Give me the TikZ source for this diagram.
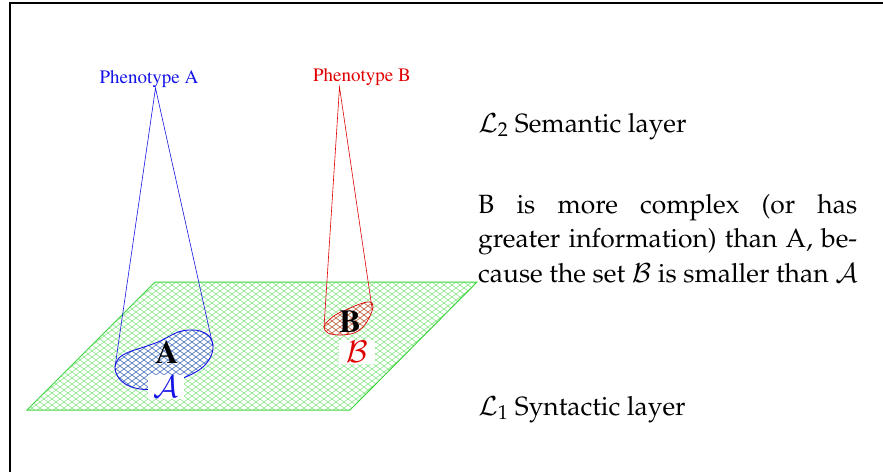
\documentclass[tikz,border=0pt]{standalone}
\usepackage[T1]{fontenc}
\usepackage{mathpazo}
\definecolor{meshgreen}{RGB}{60,215,60}
\definecolor{myblue}{RGB}{20,20,230}
\definecolor{myred}{RGB}{225,0,0}
\newcommand{\timesfont}{\fontfamily{ptm}\selectfont}
\tikzset{
  meshline/.style={line width=0.42pt},
  conel/.style={line width=0.6pt},
  phenolabel/.style={inner sep=0pt, anchor=base, font=\fontsize{19}{22}\timesfont},
  boldlabel/.style={inner sep=0pt, font=\fontsize{32}{34}\timesfont\bfseries},
  setlabel/.style={fill=white, inner sep=1pt, minimum width=36pt, minimum height=24pt, font=\fontsize{30}{32}\selectfont},
  righttext/.style={inner sep=0pt, anchor=base west, font=\fontsize{26.4}{30}\selectfont},
}
\begin{document}
\begin{tikzpicture}[x=1pt,y=-1pt]
\useasboundingbox (0,0) rectangle (883,471);
% frame
\draw[line width=2pt] (10,472) -- (10,2.7) -- (884,2.7);
% green plane
\coordinate (p1) at (27,410);
\coordinate (p2) at (350,410);
\coordinate (p3) at (477,282);
\coordinate (p4) at (155,282);
\begin{scope}
\clip (p1) -- (p2) -- (p3) -- (p4) -- cycle;
\foreach \i in {-25,...,85} {
  \draw[meshline, meshgreen!75] (8*\i,270) -- ++(200,150);
  \draw[meshline, meshgreen!75] (8*\i,270) -- ++(-200,150);
}
\end{scope}
\draw[meshgreen, line width=1pt] (p1) -- (p2) -- (p3) -- (p4) -- cycle;
% blob A
\def\blobA{plot[smooth cycle, tension=0.6] coordinates {(115,367) (118,377) (127,385) (140,389) (153,389) (167,385) (181,379) (194,373) (204,366) (211,356) (213,345) (209,336) (200,331) (189,330) (178,332) (168,337) (158,342) (144,347) (129,352) (119,358)}}
\begin{scope}
\clip \blobA;
\foreach \i in {-5,...,60} {
  \draw[meshline, myblue!70] (8*\i,270) -- ++(200,150);
  \draw[meshline, myblue!70] (8*\i,270) -- ++(-200,150);
}
\end{scope}
\draw[myblue, line width=0.9pt] \blobA;
% blob B
\def\blobB{plot[smooth cycle, tension=0.6] coordinates {(324,327) (328,333) (340,335) (354,333) (363,327) (369,318) (373,307) (370,302) (360,304) (348,309) (337,314) (329,320)}}
\begin{scope}
\clip \blobB;
\foreach \i in {20,...,80} {
  \draw[meshline, myred!75] (8*\i,270) -- ++(200,150);
  \draw[meshline, myred!75] (8*\i,270) -- ++(-200,150);
}
\end{scope}
\draw[myred, line width=0.7pt] \blobB;
% phenotype labels and cones
\node[phenolabel, text=myblue] (phA) at (149,83) {Phenotype A};
\node[phenolabel, text=myred] (phB) at (362,81.7) {Phenotype B};
\coordinate (apexA) at (155.5,88);
\coordinate (apexB) at (339.5,87);
\coordinate (aL) at (115,367);
\coordinate (aR) at (213,346);
\coordinate (bL) at (324,327);
\coordinate (bR) at (372,308);
\draw[conel, myblue] (aL) -- (apexA) -- (aR);
\draw[conel, myred] (bL) -- (apexB) -- (bR);
% labels
\node[setlabel, text=myblue] (calA) at (166,387) {$\mathcal{A}$};
\node[boldlabel] (lA) at (167,352) {A};
\node[setlabel, text=myred] (calB) at (357,352) {$\mathcal{B}$};
\node[boldlabel] (lB) at (350,321) {B};
% right text
\node[righttext] (L2) at (478,132) {$\mathcal{L}_2$ Semantic layer};
\node[righttext] (t1) at (478,213) {\makebox[379pt][s]{B is more complex (or has}};
\node[righttext] (t2) at (478,247.5) {\makebox[379pt][s]{greater information) than A, be-}};
\node[righttext] (t3) at (478,282) {cause the set $\mathcal{B}$ is smaller than $\mathcal{A}$};
\node[righttext] (L1) at (478,415) {$\mathcal{L}_1$ Syntactic layer};
\end{tikzpicture}
\end{document}
